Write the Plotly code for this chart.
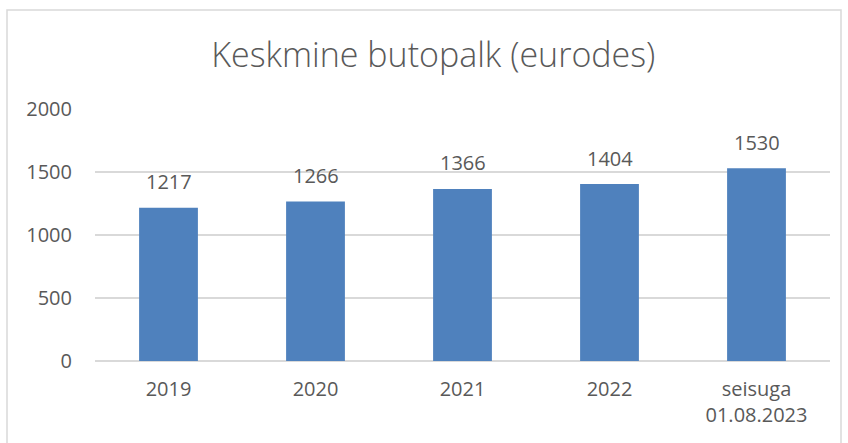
import plotly.graph_objects as go

categories = ["2019", "2020", "2021", "2022", "seisuga<br>01.08.2023"]
values = [1217, 1266, 1366, 1404, 1530]
y_ticks = [0, 500, 1000, 1500, 2000]
title_text = "Keskmine butopalk (eurodes)"

TEXT = "#595959"
BAR = "#4F81BD"
GRID = "#D9D9D9"
FONT = "Open Sans"

pos = list(range(len(categories)))

fig = go.Figure()
fig.add_trace(go.Bar(
    x=pos, y=values,
    marker=dict(color=BAR, line=dict(width=0)),
    hoverinfo="y",
))

for p, v in zip(pos, values):
    fig.add_annotation(x=p, y=v, text=str(v), showarrow=False,
                       yanchor="middle", yshift=26,
                       font=dict(family=FONT, size=20, color=TEXT))

fig.update_layout(
    width=848, height=443,
    margin=dict(l=95, r=18, t=109, b=82),
    paper_bgcolor="white", plot_bgcolor="white",
    bargap=0.6,
    showlegend=False,
    title=dict(text=title_text, x=0.511, xanchor="center",
               y=1 - 55 / 443, yanchor="middle", yref="container",
               font=dict(family=FONT, size=34, color=TEXT, weight=300)),
    font=dict(family=FONT, color=TEXT),
    xaxis=dict(range=[-0.5, len(categories) - 0.5], tickvals=pos,
               ticktext=categories, showgrid=False, showline=False,
               zeroline=False, ticks="",
               tickfont=dict(family=FONT, size=20, color=TEXT),
               ticklabelstandoff=14),
    yaxis=dict(range=[0, 2000], tickvals=y_ticks, showgrid=True,
               gridcolor=GRID, gridwidth=1.5, zeroline=True,
               zerolinecolor=GRID, zerolinewidth=1.5, showline=False, ticks="",
               tickfont=dict(family=FONT, size=20, color=TEXT),
               ticklabelstandoff=22),
    shapes=[dict(type="rect", xref="paper", yref="paper",
                 x0=(7 - 95) / 735, x1=(841 - 95) / 735,
                 y0=(361 - 460) / 252, y1=(361 - 10) / 252,
                 line=dict(color=GRID, width=1.5), fillcolor="rgba(0,0,0,0)",
                 layer="below")],
)

fig.write_html("out.html", config={"displayModeBar": False},
               post_script="document.body.style.margin='0';")
